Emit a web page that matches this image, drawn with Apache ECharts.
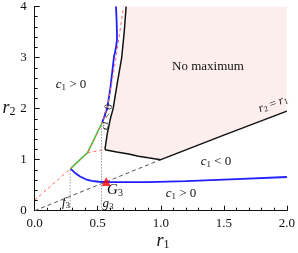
<!DOCTYPE html>
<html><head><meta charset="utf-8">
<script src="https://cdn.jsdelivr.net/npm/echarts@6/dist/echarts.min.js"></script>
<style>html,body{margin:0;padding:0;background:#fff}#c{width:298px;height:253px}</style>
</head><body><div id="c"></div>
<script>
// ---- data ----
const xTickLabels = ['0.0','0.5','1.0','1.5','2.0'];
const yTickLabels = ['0','1','2','3','4'];
const blackLeft = [[0.557,1.196],[0.575,1.5],[0.6,1.8],[0.622,2.0],[0.655,2.5],[0.69,3.0],[0.71,3.5],[0.725,4.0]];
const blackLower = [[0.557,1.196],[0.65,1.15],[0.745,1.11],[0.823,1.066],[0.9,1.035],[1.0,1.0],[1.5,1.48],[2.0,1.95]];
const blueLower = [[0.284,0.825],[0.32,0.74],[0.36,0.67],[0.406,0.615],[0.45,0.585],[0.51,0.567],[0.6,0.56],[0.9,0.56],[1.2,0.58],[1.6,0.62],[2.0,0.66]];
const blueUpper = [[0.536,1.73],[0.56,1.9],[0.575,2.0],[0.6,2.4],[0.628,3.0],[0.645,3.2],[0.653,3.36],[0.65,3.7],[0.645,4.0]];
const greenCurve = [[0.284,0.825],[0.419,1.137],[0.536,1.73]];
const redDashMain = [[0,0.208],[0.284,0.825],[0.419,1.137],[0.48,1.43],[0.536,1.73],[0.575,2.0],[0.6,2.35],[0.625,2.7],[0.645,3.0],[0.672,3.45],[0.705,4.0]];
const redDashLink = [[0.419,1.137],[0.557,1.196]];
const diagDash = [[0,0],[1,1]];
const f3Line = [[0.281,0],[0.281,0.83]];
const g3Line = [[0.53,0],[0.53,1.73]];
const g3Point = [[0.567,0.57]];
const noMaxRegion = blackLeft.concat([[2.0,4.0]], blackLower.slice().reverse());

const serif = '"Liberation Serif","DejaVu Serif",serif';
const chart = echarts.init(document.getElementById('c'));

function lineS(data, color, width, type, z){
  return {type:'line', data:data, showSymbol:false, symbol:'none', silent:true, animation:false,
    lineStyle:{color:color, width:width, type:type||'solid'}, z:z||3, clip:true};
}
const cRich = {i:{fontFamily:serif,fontStyle:'italic',fontSize:13,color:'#111'},
  s:{fontFamily:serif,fontSize:9,color:'#111',verticalAlign:'bottom',padding:[6,0,0,0]},
  t:{fontFamily:serif,fontSize:13,color:'#111'}};
function txt(x,y,rich,str,rot,size){
  return {type:'text', x:x, y:y, rotation:rot||0, z:50,
    style:{text:str, rich:rich, fontFamily:serif, fontSize:size||13, fill:'#111', align:'center', verticalAlign:'middle'}};
}

chart.setOption({
  animation:false,
  grid:{left:34.7, right:7.3, top:5, bottom:42.3},
  xAxis:{type:'value', min:0, max:2, interval:0.5,
    axisLine:{show:true, lineStyle:{color:'#111', width:1}},
    axisTick:{show:true, inside:true, length:5, lineStyle:{color:'#111'}},
    minorTick:{show:true, splitNumber:5, length:3, lineStyle:{color:'#111'}},
    splitLine:{show:false},
    axisLabel:{fontFamily:serif, fontSize:13, color:'#111', margin:6,
      formatter:function(v){ return xTickLabels[Math.round(v/0.5)]; }}},
  yAxis:{type:'value', min:0, max:4, interval:1,
    axisLine:{show:true, lineStyle:{color:'#111', width:1}},
    axisTick:{show:true, inside:true, length:5, lineStyle:{color:'#111'}},
    minorTick:{show:true, splitNumber:5, length:3, lineStyle:{color:'#111'}},
    splitLine:{show:false},
    axisLabel:{fontFamily:serif, fontSize:13, color:'#111', margin:8,
      formatter:function(v){ return yTickLabels[Math.round(v)]; }}},
  series:[
    {type:'custom', silent:true, animation:false, data:[0], z:1, clip:true,
     renderItem:function(params, api){
       const pts = noMaxRegion.map(p => api.coord(p));
       return {type:'polygon', shape:{points:pts}, style:{fill:'#fdeeee', stroke:null}};
     }},
    lineS(diagDash, '#555', 1, [4,3], 2),
    lineS(f3Line, '#999', 1, [1.5,1.5], 2),
    lineS(g3Line, '#999', 1, [1.5,1.5], 2),
    lineS(blackLeft, '#111', 1.5),
    lineS(blackLower, '#111', 1.5),
    lineS(blueLower, '#1f1fff', 1.8),
    lineS(blueUpper, '#1f1fff', 1.8),
    lineS(greenCurve, '#33cc33', 1.5),
    lineS(redDashMain, '#ff6060', 1, [3,3], 4),
    lineS(redDashLink, '#ff6060', 1, [3,3], 4),
    {type:'scatter', data:g3Point, symbol:'triangle', symbolSize:9, itemStyle:{color:'#ff0000'}, z:6, silent:true, animation:false}
  ],
  graphic:[
    txt(71,85,cRich,'{i|c}{s|1}{t| > 0}'),
    txt(208,67,null,'No maximum'),
    txt(216,162,cRich,'{i|c}{s|1}{t| < 0}'),
    txt(181,194,cRich,'{i|c}{s|1}{t| > 0}'),
    txt(107,117,{i:{fontFamily:serif,fontStyle:'italic',fontSize:11,color:'#111'},s:{fontFamily:serif,fontSize:8,color:'#111'},t:{fontFamily:serif,fontSize:11,color:'#111'}},'{i|c}{s|1}{t| < 0}',79*Math.PI/180),
    txt(273,104,{i:{fontFamily:serif,fontStyle:'italic',fontSize:12,color:'#111'},s:{fontFamily:serif,fontSize:8,color:'#111',padding:[5,0,0,0]},t:{fontFamily:serif,fontSize:12,color:'#111'}},'{i|r}{s|2}{t| = }{i|r}{s|1}',21*Math.PI/180),
    txt(115,190,{i:{fontFamily:serif,fontStyle:'italic',fontSize:15,color:'#111'},s:{fontFamily:serif,fontSize:10,color:'#111',padding:[7,0,0,0]}},'{i|G}{s|3}'),
    txt(66,203,{i:{fontFamily:serif,fontStyle:'italic',fontSize:13,color:'#111'},s:{fontFamily:serif,fontSize:9,color:'#111',padding:[6,0,0,0]}},'{i|f}{s|3}'),
    txt(108,204,{i:{fontFamily:serif,fontStyle:'italic',fontSize:13,color:'#111'},s:{fontFamily:serif,fontSize:9,color:'#111',padding:[6,0,0,0]}},'{i|g}{s|3}'),
    txt(163,241,{i:{fontFamily:serif,fontStyle:'italic',fontSize:18,color:'#111'},s:{fontFamily:serif,fontSize:12,color:'#111',padding:[8,0,0,0]}},'{i|r}{s|1}'),
    txt(9,108,{i:{fontFamily:serif,fontStyle:'italic',fontSize:18,color:'#111'},s:{fontFamily:serif,fontSize:12,color:'#111',padding:[8,0,0,0]}},'{i|r}{s|2}')
  ]
});
</script></body></html>
